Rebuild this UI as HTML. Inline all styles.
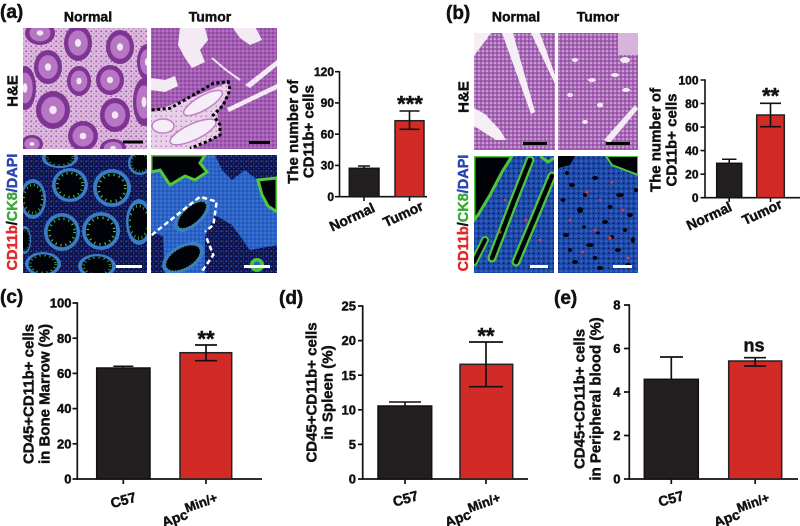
<!DOCTYPE html>
<html><head><meta charset="utf-8"><style>
html,body{margin:0;padding:0;background:#fff;}
svg{display:block;}
text{font-family:"Liberation Sans",Arial,sans-serif;font-weight:bold;fill:#111;stroke:#111;stroke-width:0.45px;}
tspan.r{fill:#e02a2a;stroke:#e02a2a;}
tspan.g{fill:#3aa83a;stroke:#3aa83a;}
tspan.b{fill:#2a44b0;stroke:#2a44b0;}
</style></head><body>
<svg width="800" height="526" viewBox="0 0 800 526" xmlns="http://www.w3.org/2000/svg">
<defs>
<clipPath id="cA1"><rect x="23" y="28" width="124" height="121"/></clipPath>
<clipPath id="cA2"><rect x="151" y="28" width="126" height="121"/></clipPath>
<clipPath id="cA3"><rect x="23" y="155" width="124" height="118"/></clipPath>
<clipPath id="cA4"><rect x="151" y="155" width="126" height="118"/></clipPath>
<clipPath id="cB1"><rect x="474" y="33" width="81" height="117"/></clipPath>
<clipPath id="cB2"><rect x="558" y="33" width="80" height="117"/></clipPath>
<clipPath id="cB3"><rect x="474" y="156" width="80" height="117"/></clipPath>
<clipPath id="cB4"><rect x="558" y="156" width="80" height="117"/></clipPath>
<pattern id="pHE" width="5" height="5" patternUnits="userSpaceOnUse">
 <rect width="5" height="5" fill="#dcb8dc"/>
 <circle cx="1.2" cy="1.3" r="0.9" fill="#9a56a8"/>
 <circle cx="3.7" cy="3.6" r="0.7" fill="#b880c4"/>
</pattern>
<pattern id="pHT" width="4" height="4" patternUnits="userSpaceOnUse">
 <rect width="4" height="4" fill="#a35db2"/>
 <circle cx="1" cy="1" r="0.8" fill="#7a3290"/>
 <circle cx="3" cy="3" r="0.7" fill="#c890d2"/>
</pattern>
<pattern id="pHB" width="4" height="4" patternUnits="userSpaceOnUse">
 <rect width="4" height="4" fill="#a866b6"/>
 <circle cx="1" cy="1" r="0.8" fill="#7e3a94"/>
 <circle cx="3" cy="3" r="0.8" fill="#ecdcef"/>
</pattern>
<pattern id="pHL" width="5" height="5" patternUnits="userSpaceOnUse">
 <rect width="5" height="5" fill="#e8d0e8"/>
 <circle cx="1.2" cy="1.2" r="0.7" fill="#a868b4"/>
</pattern>
<pattern id="pDAPI" width="5" height="5" patternUnits="userSpaceOnUse">
 <rect width="5" height="5" fill="#0b1244"/>
 <circle cx="1.3" cy="1.2" r="1" fill="#2a48b4"/>
 <circle cx="3.8" cy="3.5" r="0.9" fill="#22389a"/>
 <circle cx="3.6" cy="1" r="0.5" fill="#a03088"/>
</pattern>
<pattern id="pBlue" width="4" height="4" patternUnits="userSpaceOnUse">
 <rect width="4" height="4" fill="#2a62c6"/>
 <circle cx="1" cy="1" r="0.8" fill="#4a8ae0"/>
 <circle cx="3" cy="3" r="0.7" fill="#1c48a8"/>
</pattern>
<pattern id="pBlue2" width="5" height="5" patternUnits="userSpaceOnUse">
 <rect width="5" height="5" fill="#1e4aae"/>
 <circle cx="1.2" cy="1.2" r="0.9" fill="#3a72d2"/>
 <circle cx="3.6" cy="3.4" r="0.9" fill="#0a1640"/>
</pattern>
<g id="crypt">
 <circle r="1" fill="#7e3492"/>
 <circle r="0.7" fill="#b676c4"/>
 <circle r="0.22" fill="#f3e6f3"/>
</g>
<g id="fcrypt">
 <circle r="1" fill="#3a7cc8"/>
 <circle r="0.8" fill="#020308"/>
 <circle r="0.7" fill="none" stroke="#4cc63c" stroke-width="0.14" stroke-dasharray="0.06 0.22"/>
</g>
</defs>

<!-- Panel labels -->
<text x="0" y="18" font-size="19">(a)</text>
<text x="446" y="19" font-size="19">(b)</text>
<text x="0" y="303" font-size="19">(c)</text>
<text x="279" y="304" font-size="19">(d)</text>
<text x="554" y="304" font-size="19">(e)</text>

<!-- Column titles -->
<text x="88" y="21.5" font-size="14" text-anchor="middle">Normal</text>
<text x="210" y="21.5" font-size="14" text-anchor="middle">Tumor</text>
<text x="516" y="21.5" font-size="14" text-anchor="middle">Normal</text>
<text x="598" y="21.5" font-size="14" text-anchor="middle">Tumor</text>

<!-- Row labels -->
<text transform="translate(12,91) rotate(-90)" dy="0.35em" font-size="15" text-anchor="middle">H&amp;E</text>
<text transform="translate(12,212) rotate(-90)" dy="0.35em" font-size="14.5" text-anchor="middle"><tspan class="r">CD11b</tspan><tspan>/</tspan><tspan class="g">CK8</tspan><tspan class="b">/DAPI</tspan></text>
<text transform="translate(463,97) rotate(-90)" dy="0.35em" font-size="15" text-anchor="middle">H&amp;E</text>
<text transform="translate(463,213) rotate(-90)" dy="0.35em" font-size="14.5" text-anchor="middle"><tspan class="r">CD11b</tspan><tspan>/</tspan><tspan class="g">CK8</tspan><tspan class="b">/DAPI</tspan></text>

<!-- (a) Normal H&E -->
<g clip-path="url(#cA1)">
 <rect x="23" y="28" width="124" height="121" fill="url(#pHE)"/>
 <use href="#crypt" transform="translate(40,33) scale(15,12)"/>
 <use href="#crypt" transform="translate(78,43) scale(14,18)"/>
 <use href="#crypt" transform="translate(120,47) scale(14,17)"/>
 <use href="#crypt" transform="translate(48,67) scale(14,17)"/>
 <use href="#crypt" transform="translate(79,81) scale(12,15)"/>
 <use href="#crypt" transform="translate(110,80) scale(14,15)"/>
 <use href="#crypt" transform="translate(147,62) scale(10,18)"/>
 <use href="#crypt" transform="translate(25,88) scale(11,22)"/>
 <use href="#crypt" transform="translate(53,110) scale(17,19)"/>
 <use href="#crypt" transform="translate(115,115) scale(15,17)"/>
 <use href="#crypt" transform="translate(144,102) scale(11,24)"/>
 <use href="#crypt" transform="translate(83,136) scale(15,15)"/>
 <use href="#crypt" transform="translate(113,148) scale(13,9)"/>
 <use href="#crypt" transform="translate(32,144) scale(11,9)"/>
 <rect x="123" y="140.5" width="20" height="3" fill="#000"/>
</g>

<!-- (a) Tumor H&E -->
<g clip-path="url(#cA2)">
 <rect x="151" y="28" width="126" height="121" fill="url(#pHT)"/>
 <g fill="#f4eaf4">
  <polygon points="180,28 205,28 208,40 200,50 205,62 192,68 185,58 178,45"/>
  <polygon points="233,28 256,28 262,40 250,45 240,38"/>
  <polygon points="245,85 277,60 277,66 250,88"/>
  <polygon points="151,78 165,80 175,76 178,86 165,92 151,90"/>
  <polygon points="227,108 277,84 277,89 229,112"/>
 </g>
 <path d="M212 58 L226 70 L240 80" stroke="#f0e0f0" stroke-width="2" fill="none"/>
 <polygon points="151,112 193,97 227,83 230,90 217,112 220,135 193,149 151,149" fill="url(#pHL)"/>
 <ellipse cx="203" cy="103" rx="22" ry="7" transform="rotate(-30 203 103)" fill="#f6eef6" stroke="#c080c8" stroke-width="1.5"/>
 <ellipse cx="193" cy="132" rx="25" ry="8" transform="rotate(-25 193 132)" fill="#f6eef6" stroke="#c080c8" stroke-width="1.5"/>
 <ellipse cx="163" cy="126" rx="11" ry="7" fill="#f6eef6" stroke="#c080c8" stroke-width="1.5"/>
 <path d="M151.7 110 L170 108.3 L193.3 95 L213.3 83.3 L228.3 81.7 L230 90 L223.3 105 L213.3 115 L220 125 L220 135 L206.7 141.7 L190 148.3" stroke="#000" stroke-width="3" fill="none" stroke-dasharray="3 2.5"/>
 <rect x="249" y="141" width="21" height="3" fill="#000"/>
</g>

<!-- (a) Normal IF -->
<g clip-path="url(#cA3)">
 <rect x="23" y="155" width="124" height="118" fill="url(#pDAPI)"/>
 <use href="#fcrypt" transform="translate(60,158) scale(18,10)"/>
 <use href="#fcrypt" transform="translate(140,163) scale(12,12)"/>
 <use href="#fcrypt" transform="translate(70,185) scale(18,17)"/>
 <use href="#fcrypt" transform="translate(112,188) scale(19,19)"/>
 <use href="#fcrypt" transform="translate(33,199) scale(13,20)"/>
 <use href="#fcrypt" transform="translate(139,222) scale(13,23)"/>
 <use href="#fcrypt" transform="translate(62,232) scale(18,19)"/>
 <use href="#fcrypt" transform="translate(101,231) scale(19,19)"/>
 <use href="#fcrypt" transform="translate(43,264) scale(18,12)"/>
 <use href="#fcrypt" transform="translate(97,266) scale(19,12)"/>
 <use href="#fcrypt" transform="translate(25,240) scale(6,14)"/>
 <rect x="116" y="265" width="26" height="3" fill="#fff"/>
</g>

<!-- (a) Tumor IF -->
<g clip-path="url(#cA4)">
 <rect x="151" y="155" width="126" height="118" fill="url(#pBlue)"/>
 <polygon points="151,155 205,155 200,163 207,172 195,180 185,176 170,185 160,170 151,172" fill="#020308" stroke="#52c83a" stroke-width="3"/>
 <polygon points="215,155 277,155 277,185 255,178 245,170 232,180 222,170" fill="url(#pDAPI)"/>
 <polygon points="258,180 277,178 277,212 268,206 262,195" fill="#020308" stroke="#52c83a" stroke-width="3"/>
 <polygon points="205,236 215,215 232,225 250,250 277,245 277,273 205,273" fill="url(#pDAPI)"/>
 <polygon points="151,232 163,236 165,273 151,273" fill="url(#pDAPI)"/>
 <ellipse cx="192" cy="215" rx="22" ry="11" transform="rotate(-42 192 215)" fill="#3a7cc8"/>
 <ellipse cx="192" cy="215" rx="18" ry="8" transform="rotate(-42 192 215)" fill="#020308" stroke="#4cc63c" stroke-width="1" stroke-dasharray="1 2"/>
 <ellipse cx="183" cy="258" rx="23" ry="13" transform="rotate(-30 183 258)" fill="#3a7cc8"/>
 <ellipse cx="183" cy="258" rx="19" ry="10" transform="rotate(-30 183 258)" fill="#020308" stroke="#4cc63c" stroke-width="1" stroke-dasharray="1 2"/>
 <circle cx="257" cy="265" r="7" fill="#4cc63c"/>
 <circle cx="257" cy="265" r="3.5" fill="#2a62c6"/>
 <path d="M151.7 235 L200 196.7 L216.7 201.7 L213.3 225 L205 231.7 M206.7 238.3 L213.3 255 L201.7 271.7" stroke="#fff" stroke-width="2.5" fill="none" stroke-dasharray="5 3"/>
 <rect x="244" y="265" width="26" height="3" fill="#fff"/>
</g>

<!-- (b) Normal H&E -->
<g clip-path="url(#cB1)">
 <rect x="474" y="33" width="81" height="117" fill="url(#pHB)"/>
 <g fill="#f5eef5">
  <polygon points="474,33 491,33 474,56"/>
  <polygon points="502,33 513,33 535,112 531,114"/>
  <polygon points="531,33 540,33 555,75 555,84"/>
  <polygon points="474,108 485,114 500,130 506,140 496,140 474,126"/>
 </g>
 <rect x="523" y="142" width="24" height="3" fill="#000"/>
</g>

<!-- (b) Tumor H&E -->
<g clip-path="url(#cB2)">
 <rect x="558" y="33" width="80" height="117" fill="url(#pHB)"/>
 <rect x="618" y="33" width="20" height="22" fill="#d6b4db"/>
 <g fill="#f4eaf4">
  <polygon points="604,140 635,105 638,109 610,143"/>
  <ellipse cx="575" cy="60" rx="3" ry="2"/>
  <ellipse cx="592" cy="80" rx="4" ry="2"/>
  <ellipse cx="600" cy="105" rx="3" ry="2.5"/>
  <ellipse cx="585" cy="122" rx="3" ry="2"/>
  <ellipse cx="615" cy="75" rx="4" ry="2"/>
  <ellipse cx="570" cy="95" rx="3" ry="2"/>
  <ellipse cx="626" cy="90" rx="4" ry="2"/>
  <ellipse cx="625" cy="60" rx="5" ry="3"/>
 </g>
 <rect x="606" y="142" width="24" height="3" fill="#000"/>
</g>

<!-- (b) Normal IF -->
<g clip-path="url(#cB3)">
 <rect x="474" y="156" width="80" height="117" fill="url(#pBlue2)"/>
 <polygon points="474,156 512,156 502,172 490,195 478,215 474,220" fill="#020308" stroke="#4cc63c" stroke-width="3"/>
 <g fill="none" stroke-linecap="round">
  <path d="M492 258 L515 198 L530 160" stroke="#4cc63c" stroke-width="9"/>
  <path d="M492 258 L515 198 L530 160" stroke="#020308" stroke-width="4.5"/>
  <path d="M516 262 L537 212 L552 176" stroke="#4cc63c" stroke-width="9"/>
  <path d="M516 262 L537 212 L552 176" stroke="#020308" stroke-width="4.5"/>
  <path d="M474 262 L485 240" stroke="#4cc63c" stroke-width="8"/>
  <path d="M474 262 L485 240" stroke="#020308" stroke-width="4"/>
 </g>
 <path d="M540 156 L548 162 L554 158" stroke="#4cc63c" stroke-width="3" fill="none"/>
 <g fill="#e03a50"><circle cx="526" cy="220" r="1.5"/><circle cx="500" cy="232" r="1.5"/><circle cx="540" cy="240" r="1.3"/><circle cx="505" cy="200" r="1.3"/></g>
 <rect x="530" y="265" width="18" height="3" fill="#fff"/>
</g>

<!-- (b) Tumor IF -->
<g clip-path="url(#cB4)">
 <rect x="558" y="156" width="80" height="117" fill="url(#pBlue2)"/>
 <polygon points="606,156 638,156 638,175 625,170 612,165" fill="#020308" stroke="#4cc63c" stroke-width="2"/>
 <polygon points="558,156 575,156 570,165 558,168" fill="#020308"/>
 <g fill="#020308">
  <ellipse cx="572" cy="185" rx="3" ry="2"/><ellipse cx="595" cy="178" rx="3" ry="2"/>
  <ellipse cx="620" cy="195" rx="4" ry="2"/><ellipse cx="580" cy="210" rx="3" ry="3"/>
  <ellipse cx="605" cy="222" rx="3" ry="2"/><ellipse cx="630" cy="215" rx="3" ry="2"/>
  <ellipse cx="566" cy="235" rx="3" ry="2"/><ellipse cx="590" cy="245" rx="4" ry="2"/>
  <ellipse cx="618" cy="250" rx="3" ry="2"/><ellipse cx="575" cy="262" rx="3" ry="2"/>
  <ellipse cx="600" cy="268" rx="3" ry="2"/><ellipse cx="633" cy="240" rx="2" ry="3"/>
  <ellipse cx="563" cy="200" rx="2.5" ry="2"/><ellipse cx="585" cy="195" rx="2" ry="2"/>
  <ellipse cx="610" cy="207" rx="2.5" ry="2"/><ellipse cx="625" cy="230" rx="2" ry="2"/>
  <ellipse cx="595" cy="258" rx="2.5" ry="2"/><ellipse cx="628" cy="265" rx="3" ry="2"/>
  <ellipse cx="570" cy="250" rx="2" ry="2"/><ellipse cx="612" cy="237" rx="2" ry="2"/>
  <ellipse cx="598" cy="233" rx="2" ry="1.5"/><ellipse cx="584" cy="227" rx="2" ry="1.5"/>
  <ellipse cx="636" cy="190" rx="2" ry="2"/><ellipse cx="567" cy="173" rx="2" ry="2"/>
 </g>
 <g fill="#e83838">
  <circle cx="587" cy="192" r="1.6"/><circle cx="612" cy="182" r="1.4"/><circle cx="623" cy="210" r="1.5"/>
  <circle cx="595" cy="230" r="1.4"/><circle cx="570" cy="220" r="1.3"/><circle cx="610" cy="238" r="1.6"/>
  <circle cx="628" cy="258" r="1.4"/><circle cx="583" cy="252" r="1.3"/><circle cx="600" cy="200" r="1.2"/>
 </g>
 <rect x="613" y="265" width="19" height="3" fill="#fff"/>
</g>

<!-- ===== Chart (a) ===== -->
<g stroke="#111" stroke-width="1.6" fill="none">
 <line x1="339.5" y1="71" x2="339.5" y2="197.5"/>
 <line x1="338.7" y1="196.7" x2="427" y2="196.7"/>
 <path d="M335 71.7H339.5M335 102.95H339.5M335 134.2H339.5M335 165.45H339.5M335 196.7H339.5M364 196.7V201M409.5 196.7V201"/>
</g>
<rect x="349.3" y="168.3" width="29.7" height="28.4" fill="#231f20" stroke="#111" stroke-width="1.5"/>
<path d="M364 168.3V166M358 166H370" stroke="#111" stroke-width="1.5"/>
<rect x="395" y="120.7" width="29" height="76" fill="#d22b27" stroke="#222" stroke-width="1.5"/>
<path d="M409.5 111V129.3M399.5 111H419.5M399.5 129.3H419.5" stroke="#111" stroke-width="1.6"/>
<g font-size="12" text-anchor="end">
 <text x="334" y="76">120</text><text x="334" y="107.2">90</text><text x="334" y="138.5">60</text><text x="334" y="169.7">30</text><text x="334" y="201">0</text>
</g>
<text x="410" y="111.4" font-size="22" text-anchor="middle">***</text>
<text transform="translate(352,217) rotate(-25)" dy="0.35em" font-size="14" text-anchor="middle">Normal</text>
<text transform="translate(403,214) rotate(-25)" dy="0.35em" font-size="14" text-anchor="middle">Tumor</text>
<text transform="translate(292.5,131.7) rotate(-90)" dy="0.35em" font-size="15" text-anchor="middle">The number of</text>
<text transform="translate(308,131.7) rotate(-90)" dy="0.35em" font-size="15" text-anchor="middle">CD11b+ cells</text>

<!-- ===== Chart (b) ===== -->
<g stroke="#111" stroke-width="1.6" fill="none">
 <line x1="705" y1="79.3" x2="705" y2="198.5"/>
 <line x1="704.2" y1="197.7" x2="800" y2="197.7"/>
 <path d="M700.5 80H705M700.5 103.5H705M700.5 127.1H705M700.5 150.6H705M700.5 174.2H705M700.5 197.7H705M729.2 197.7V202M770.5 197.7V202"/>
</g>
<rect x="716.7" y="163.3" width="25" height="34.4" fill="#231f20" stroke="#111" stroke-width="1.5"/>
<path d="M729.2 163.3V159.3M722 159.3H736.5" stroke="#111" stroke-width="1.5"/>
<rect x="756.7" y="115" width="27.6" height="82.7" fill="#d22b27" stroke="#222" stroke-width="1.5"/>
<path d="M770.5 103.3V126.7M760 103.3H781M760 126.7H781" stroke="#111" stroke-width="1.6"/>
<g font-size="12" text-anchor="end">
 <text x="698.5" y="84.3">100</text><text x="698.5" y="107.8">80</text><text x="698.5" y="131.4">60</text><text x="698.5" y="154.9">40</text><text x="698.5" y="178.5">20</text><text x="698.5" y="202">0</text>
</g>
<text x="770.7" y="103.4" font-size="22" text-anchor="middle">**</text>
<text transform="translate(709,216) rotate(-25)" dy="0.35em" font-size="14" text-anchor="middle">Normal</text>
<text transform="translate(762,212) rotate(-25)" dy="0.35em" font-size="14" text-anchor="middle">Tumor</text>
<text transform="translate(655,140) rotate(-90)" dy="0.35em" font-size="15" text-anchor="middle">The number of</text>
<text transform="translate(671,140) rotate(-90)" dy="0.35em" font-size="15" text-anchor="middle">CD11b+ cells</text>

<!-- ===== Chart (c) ===== -->
<g stroke="#111" stroke-width="1.7" fill="none">
 <line x1="77.3" y1="302.3" x2="77.3" y2="479.8"/>
 <line x1="76.5" y1="479" x2="262" y2="479"/>
 <path d="M72.5 303H77.3M72.5 338.2H77.3M72.5 373.4H77.3M72.5 408.6H77.3M72.5 443.8H77.3M72.5 479H77.3M123.3 479V484M206 479V484"/>
</g>
<rect x="96.7" y="368" width="53.3" height="111" fill="#231f20" stroke="#111" stroke-width="1.5"/>
<path d="M123.3 368V366.3M113.3 366.3H133.3" stroke="#111" stroke-width="1.5"/>
<rect x="180" y="352.7" width="51.7" height="126.3" fill="#d22b27" stroke="#222" stroke-width="1.5"/>
<path d="M206 345V360.7M195 345H217M195 360.7H217" stroke="#111" stroke-width="1.7"/>
<g font-size="13" text-anchor="end">
 <text x="71.5" y="307.6">100</text><text x="71.5" y="342.8">80</text><text x="71.5" y="378">60</text><text x="71.5" y="413.2">40</text><text x="71.5" y="448.4">20</text><text x="71.5" y="483.6">0</text>
</g>
<text x="206" y="346.4" font-size="22" text-anchor="middle">**</text>
<text transform="translate(123.3,500) rotate(-15)" dy="0.35em" font-size="14" text-anchor="middle">C57</text>
<text transform="translate(192.2,517.1) rotate(-20)" font-size="14" text-anchor="middle">Apc<tspan dy="-6" font-size="13">Min/+</tspan></text>
<text transform="translate(28,394) rotate(-90)" dy="0.35em" font-size="15" text-anchor="middle">CD45+CD11b+ cells</text>
<text transform="translate(44,394) rotate(-90)" dy="0.35em" font-size="15" text-anchor="middle">in Bone Marrow (%)</text>

<!-- ===== Chart (d) ===== -->
<g stroke="#111" stroke-width="1.7" fill="none">
 <line x1="362.7" y1="305.3" x2="362.7" y2="479.8"/>
 <line x1="361.9" y1="479" x2="528" y2="479"/>
 <path d="M358 306H362.7M358 340.6H362.7M358 375.2H362.7M358 409.8H362.7M358 444.4H362.7M358 479H362.7M405 479V484M486 479V484"/>
</g>
<rect x="378" y="406" width="53.7" height="73" fill="#231f20" stroke="#111" stroke-width="1.5"/>
<path d="M405 406V402M389 402H421" stroke="#111" stroke-width="1.6"/>
<rect x="460" y="364.3" width="52.7" height="114.7" fill="#d22b27" stroke="#222" stroke-width="1.5"/>
<path d="M486 342V386.7M469 342H503M469 386.7H503" stroke="#111" stroke-width="1.7"/>
<g font-size="13" text-anchor="end">
 <text x="356" y="310.6">25</text><text x="356" y="345.2">20</text><text x="356" y="379.8">15</text><text x="356" y="414.4">10</text><text x="356" y="449">5</text><text x="356" y="483.6">0</text>
</g>
<text x="486" y="343.4" font-size="22" text-anchor="middle">**</text>
<text transform="translate(405.5,498.5) rotate(-15)" dy="0.35em" font-size="14" text-anchor="middle">C57</text>
<text transform="translate(475.2,517.1) rotate(-20)" font-size="14" text-anchor="middle">Apc<tspan dy="-6" font-size="13">Min/+</tspan></text>
<text transform="translate(311,392.5) rotate(-90)" dy="0.35em" font-size="15" text-anchor="middle">CD45+CD11b+ cells</text>
<text transform="translate(327,392.5) rotate(-90)" dy="0.35em" font-size="15" text-anchor="middle">in Spleen (%)</text>

<!-- ===== Chart (e) ===== -->
<g stroke="#111" stroke-width="1.7" fill="none">
 <line x1="629.3" y1="304.3" x2="629.3" y2="479.8"/>
 <line x1="628.5" y1="479" x2="798" y2="479"/>
 <path d="M624 305H629.3M624 348.5H629.3M624 392H629.3M624 435.5H629.3M624 479H629.3M671.3 479V484M755.2 479V484"/>
</g>
<rect x="644.3" y="379.3" width="54" height="99.7" fill="#231f20" stroke="#111" stroke-width="1.5"/>
<path d="M671.3 379.3V357M660 357H683" stroke="#111" stroke-width="1.7"/>
<rect x="728.7" y="361" width="53" height="118" fill="#d22b27" stroke="#222" stroke-width="1.5"/>
<path d="M755.2 357.7V366M744 357.7H766M744 366H766" stroke="#111" stroke-width="1.7"/>
<g font-size="13" text-anchor="end">
 <text x="620.5" y="309.6">8</text><text x="620.5" y="353.1">6</text><text x="620.5" y="396.6">4</text><text x="620.5" y="440.1">2</text><text x="620.5" y="483.6">0</text>
</g>
<text x="754" y="351.7" font-size="18" text-anchor="middle">ns</text>
<text transform="translate(671,498.5) rotate(-15)" dy="0.35em" font-size="14" text-anchor="middle">C57</text>
<text transform="translate(744.2,517.1) rotate(-20)" font-size="14" text-anchor="middle">Apc<tspan dy="-6" font-size="13">Min/+</tspan></text>
<text transform="translate(579,399) rotate(-90)" dy="0.35em" font-size="15" text-anchor="middle">CD45+CD11b+ cells</text>
<text transform="translate(595,399) rotate(-90)" dy="0.35em" font-size="15" text-anchor="middle">in Peripheral blood (%)</text>
</svg>
</body></html>
